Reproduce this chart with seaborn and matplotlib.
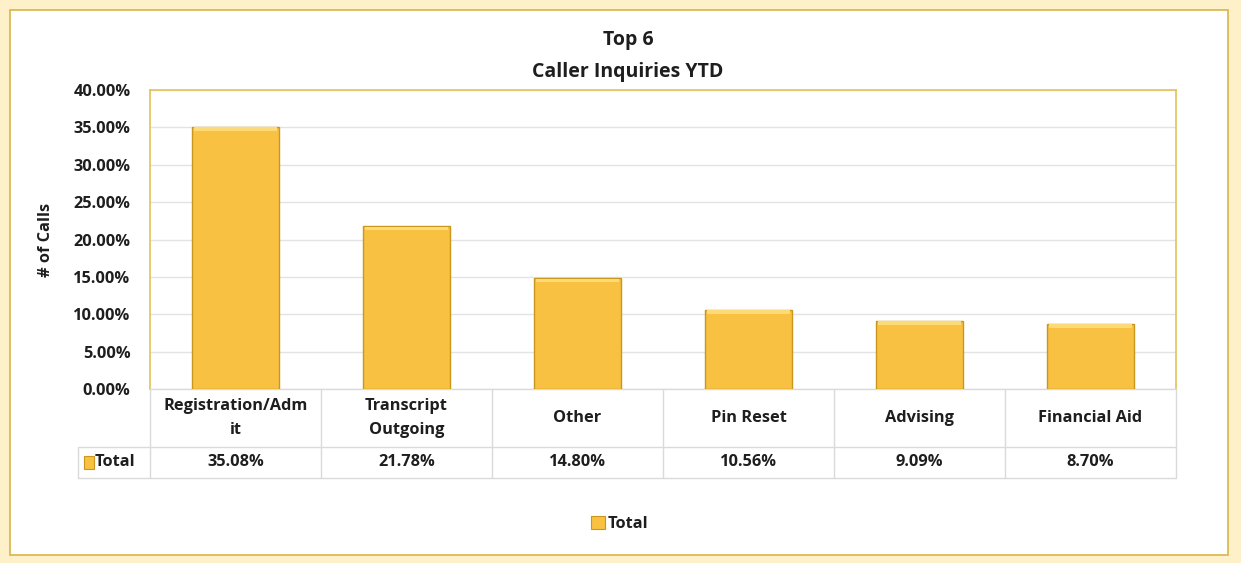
import matplotlib
matplotlib.use("Agg")
import matplotlib.pyplot as plt
import seaborn as sns
import pandas as pd
from matplotlib.patches import Patch, Rectangle
from matplotlib.lines import Line2D
from matplotlib.ticker import PercentFormatter
import matplotlib.transforms as mtransforms

# -------------- Data

categories = ["Registration/Adm\nit", "Transcript\nOutgoing", "Other", "Pin Reset", "Advising", "Financial Aid"]
totals = [35.08, 21.78, 14.80, 10.56, 9.09, 8.70]
series_name = "Total"
title_lines = ["Top 6", "Caller Inquiries YTD"]
y_label = "# of Calls"

df = pd.DataFrame({"Category": categories, "Total": totals})

# -------------- Style

sns.set_style("white")
plt.rcParams["font.family"] = ["Open Sans", "DejaVu Sans"]
plt.rcParams["font.weight"] = "bold"

bar_color = "#F8C141"
bar_edge = "#C9971E"
bar_top = "#FCDA78"
gold = "#E2C259"
grid_gray = "#E3E3E3"
table_gray = "#DADADA"
text_color = "#1E1E1E"
fs = 11.8

fig = plt.figure(figsize=(12.41, 5.63), dpi=100)
fig.patch.set_facecolor("#FEF0C9")

# white panel with gold border
fig.add_artist(Rectangle((10 / 1241, 1 - 555 / 563), 1218 / 1241, 545 / 563,
                         transform=fig.transFigure, facecolor="white",
                         edgecolor="#D8B548", linewidth=1.2, zorder=0))

ax = fig.add_axes([150 / 1241, 1 - 389 / 563, 1026 / 1241, 299 / 563])
ax.set_facecolor("white")

sns.barplot(data=df, x="Category", y="Total", color=bar_color, width=0.51,
            edgecolor=bar_edge, linewidth=1.0, saturation=1, ax=ax, zorder=3)

# light bevel on top of each bar
for bar in ax.patches:
    ax.add_patch(Rectangle((bar.get_x() + 0.01, bar.get_height() - 0.55),
                           bar.get_width() - 0.02, 0.5, facecolor=bar_top,
                           edgecolor="none", zorder=4))

ax.set_ylim(0, 40)
ax.set_yticks(range(0, 41, 5))
ax.yaxis.set_major_formatter(PercentFormatter(decimals=2))
ax.grid(axis="y", color=grid_gray, linewidth=1, zorder=0)
ax.set_xticks([])
ax.set_xlabel("")
ax.set_ylabel(y_label, fontsize=fs, fontweight="bold", color=text_color, labelpad=14)
ax.tick_params(axis="y", length=0, labelsize=fs, labelcolor=text_color, pad=14)
for lbl in ax.get_yticklabels():
    lbl.set_fontweight("bold")
for side in ["top", "right", "left"]:
    ax.spines[side].set_color(gold)
    ax.spines[side].set_linewidth(1.2)
ax.spines["bottom"].set_color(table_gray)
ax.spines["bottom"].set_linewidth(1)

# -------------- Data table under the axis

n = len(categories)
row1 = -58 / 299
row2 = -89 / 299
left_total = -72 / 1026

blend = mtransforms.blended_transform_factory(ax.transData, ax.transAxes)
for k in range(n + 1):
    ax.add_line(Line2D([k - 0.5, k - 0.5], [0, row2], transform=blend,
                       color=table_gray, linewidth=1, clip_on=False))
ax.add_line(Line2D([left_total, left_total], [row1, row2], transform=ax.transAxes,
                   color=table_gray, linewidth=1, clip_on=False))
for y in [row1, row2]:
    ax.add_line(Line2D([left_total, 1], [y, y], transform=ax.transAxes,
                       color=table_gray, linewidth=1, clip_on=False))

for i, (cat, val) in enumerate(zip(categories, totals)):
    ax.text(i, row1 / 2, cat, transform=blend, ha="center", va="center",
            fontsize=fs, fontweight="bold", color=text_color, linespacing=1.6)
    ax.text(i, (row1 + row2) / 2, f"{val:.2f}%", transform=blend, ha="center",
            va="center", fontsize=fs, fontweight="bold", color=text_color)

# legend key inside the table row
ax.add_patch(Rectangle((-66 / 1026, (row1 + row2) / 2 - 0.022), 0.0095, 0.044,
                       transform=ax.transAxes, facecolor=bar_color,
                       edgecolor=bar_edge, linewidth=0.8, clip_on=False))
ax.text(-55 / 1026, (row1 + row2) / 2, series_name, transform=ax.transAxes,
        ha="left", va="center", fontsize=fs, fontweight="bold", color=text_color)

# -------------- Titles and legend

fig.text(628 / 1241, 1 - 40 / 563, title_lines[0], ha="center", va="center",
         fontsize=14, fontweight="bold", color=text_color)
fig.text(628 / 1241, 1 - 72 / 563, title_lines[1], ha="center", va="center",
         fontsize=14, fontweight="bold", color=text_color)

handle = Patch(facecolor=bar_color, edgecolor=bar_edge, linewidth=0.8, label=series_name)
leg = fig.legend(handles=[handle], loc="center", bbox_to_anchor=(620 / 1241, 1 - 524 / 563),
                 frameon=False, handlelength=0.8, handleheight=0.8, handletextpad=0.2,
                 prop={"weight": "bold", "size": fs})
for t in leg.get_texts():
    t.set_color(text_color)

fig.savefig("out.png", dpi=100, facecolor=fig.get_facecolor())
